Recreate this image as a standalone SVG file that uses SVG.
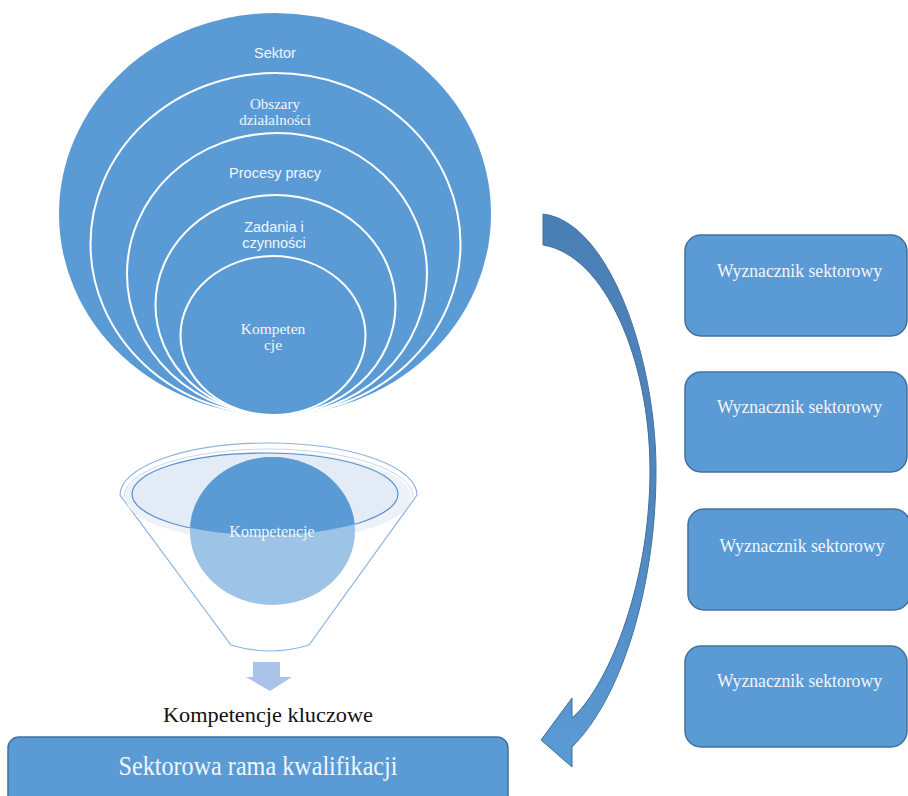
<svg xmlns="http://www.w3.org/2000/svg" width="908" height="796" viewBox="0 0 908 796">
<style>
.ring{fill:#5b9bd5;stroke:#ffffff;stroke-width:2}
.sans{font-family:"Liberation Sans",Arial,sans-serif;fill:#f2f6fb;text-anchor:middle}
.serif{font-family:"Liberation Serif","Times New Roman",serif;fill:#f2f6fb;text-anchor:middle}
.box{fill:#5b9bd5;stroke:#41719c;stroke-width:1.5}
.boxtxt{font-family:"Liberation Serif","Times New Roman",serif;fill:#f2f6fb;font-size:18px;text-anchor:middle}
</style>
<defs>
<linearGradient id="arrowGrad" x1="0" y1="0" x2="0" y2="1">
<stop offset="0" stop-color="#4a7fb5"/>
<stop offset="0.5" stop-color="#4f86be"/>
<stop offset="1" stop-color="#5b9bd5"/>
</linearGradient>
<clipPath id="rimClip"><ellipse cx="265" cy="494" rx="133" ry="41"/></clipPath>
</defs>
<rect width="908" height="796" fill="#ffffff"/>

<g id="circles">
<g id="sektor"><ellipse class="ring" cx="275" cy="214" rx="217" ry="202"/><text class="sans" x="275" y="58" font-size="14.5">Sektor</text></g>
<g id="obszary"><ellipse class="ring" cx="275.5" cy="244" rx="185" ry="171"/><text class="serif" x="275" y="109" font-size="15">Obszary</text><text class="serif" x="275" y="125" font-size="15">działalności</text></g>
<g id="procesy"><ellipse class="ring" cx="277" cy="274" rx="150" ry="141"/><text class="sans" x="275" y="178" font-size="14.5">Procesy pracy</text></g>
<g id="zadania"><ellipse class="ring" cx="275.5" cy="305" rx="120" ry="110"/><text class="sans" x="274" y="232" font-size="14.5">Zadania i</text><text class="sans" x="274" y="248" font-size="14.5">czynności</text></g>
<g id="kompetencje-inner"><ellipse class="ring" cx="273" cy="335.5" rx="92.5" ry="79.5"/><text class="serif" x="273" y="334" font-size="15.5">Kompeten</text><text class="serif" x="273" y="350" font-size="15.5">cje</text></g>
</g>

<g id="funnel">
<path d="M120,495 A148.5,52 0 0 1 417,495 L309,645 Q270,657 231,645 Z" fill="#ffffff" stroke="#8db3e2" stroke-width="1.2"/>
<path d="M124,497 A144.5,48 0 0 1 413,497" fill="none" stroke="#c5d8ef" stroke-width="1"/>
<ellipse cx="268" cy="497" rx="143" ry="45" fill="#edf2f9"/>
<ellipse cx="265" cy="494" rx="133" ry="41" fill="#e3ebf6" stroke="#5b8fcc" stroke-width="1.2"/>
<ellipse cx="272.5" cy="531" rx="82.5" ry="74" fill="#9dc3e6"/>
<ellipse cx="272.5" cy="531" rx="82.5" ry="74" fill="#5b9bd5" clip-path="url(#rimClip)"/>
<text class="serif" x="272" y="537" font-size="16">Kompetencje</text>
</g>

<g id="down-arrow">
<path d="M253,662 L280,662 L280,677 L292,677 L270,691 L246,677 L253,677 Z" fill="#a9c4e8"/>
</g>

<g id="kluczowe">
<text x="268" y="722" font-family="'Liberation Serif','Times New Roman',serif" font-size="21" fill="#111111" text-anchor="middle" textLength="210" lengthAdjust="spacingAndGlyphs">Kompetencje kluczowe</text>
</g>

<g id="rama">
<rect class="box" x="8" y="737" width="500" height="75" rx="11"/>
<text x="258" y="775" font-family="'Liberation Serif','Times New Roman',serif" font-size="27" fill="#f2f6fb" text-anchor="middle" textLength="279" lengthAdjust="spacingAndGlyphs">Sektorowa rama kwalifikacji</text>
</g>

<g id="wyznacznik-1"><rect class="box" x="685" y="235" width="222" height="101" rx="16"/><text class="boxtxt" x="799.5" y="277" textLength="165" lengthAdjust="spacingAndGlyphs">Wyznacznik sektorowy</text></g>
<g id="wyznacznik-2"><rect class="box" x="685" y="372" width="222" height="100" rx="16"/><text class="boxtxt" x="799.5" y="413" textLength="165" lengthAdjust="spacingAndGlyphs">Wyznacznik sektorowy</text></g>
<g id="wyznacznik-3"><rect class="box" x="688" y="509" width="222" height="101" rx="16"/><text class="boxtxt" x="802" y="552" textLength="165" lengthAdjust="spacingAndGlyphs">Wyznacznik sektorowy</text></g>
<g id="wyznacznik-4"><rect class="box" x="685" y="646" width="222" height="101" rx="16"/><text class="boxtxt" x="799.5" y="687" textLength="165" lengthAdjust="spacingAndGlyphs">Wyznacznik sektorowy</text></g>

<g id="connectors">
<path d="M543,214 C610,222 656,360 656,470 C656,590 620,700 572,747 L572,767 L541,740 L572,698 L572,718 C605,690 650,590 650,470 C650,360 605,255 543,245 Z" fill="url(#arrowGrad)" stroke="#41719c" stroke-width="1"/>
</g>
</svg>
